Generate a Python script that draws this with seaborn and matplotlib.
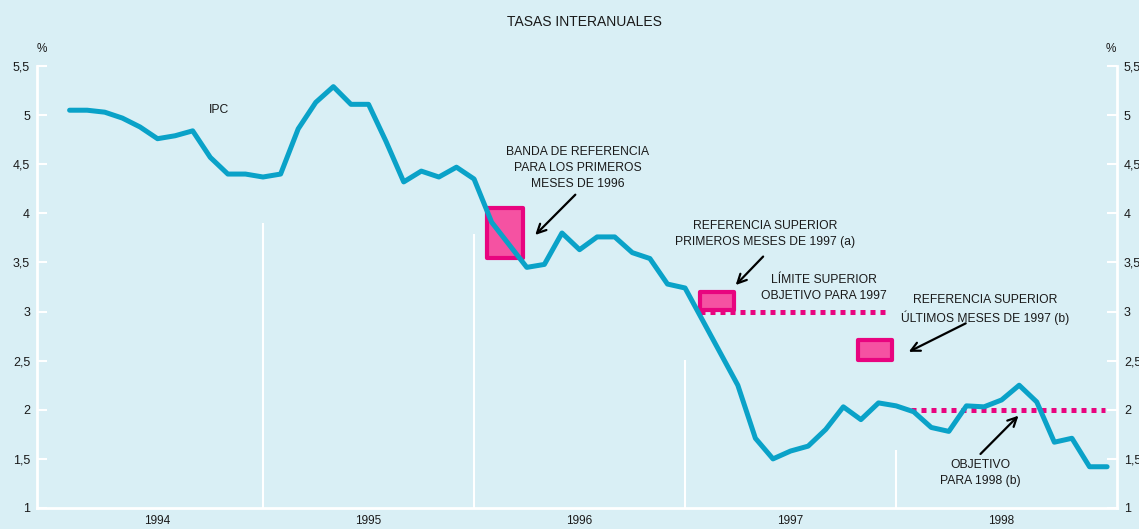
import numpy as np
import pandas as pd
import matplotlib
matplotlib.use("Agg")
import matplotlib.pyplot as plt
from matplotlib.patches import Rectangle
import seaborn as sns

# IPC, tasa interanual (%), ene 1994 - dic 1998
ipc = [5.05, 5.05, 5.03, 4.97, 4.88, 4.76, 4.79, 4.84, 4.57, 4.40, 4.40, 4.37,
       4.40, 4.86, 5.13, 5.29, 5.11, 5.11, 4.73, 4.32, 4.43, 4.37, 4.47, 4.35,
       3.91, 3.68, 3.45, 3.48, 3.80, 3.63, 3.76, 3.76, 3.60, 3.54, 3.28, 3.24,
       2.91, 2.58, 2.25, 1.71, 1.50, 1.58, 1.63, 1.80, 2.03, 1.90, 2.07, 2.04,
       1.98, 1.82, 1.78, 2.04, 2.03, 2.10, 2.25, 2.08, 1.67, 1.71, 1.42, 1.42]
years = [1994, 1995, 1996, 1997, 1998]

# bandas / referencias (cajas rosas): inicio, fin (en años), mínimo, máximo
box_x0 = [1996.06, 1997.07, 1997.82]
box_x1 = [1996.23, 1997.23, 1997.98]
box_lo = [3.55, 3.02, 2.51]
box_hi = [4.05, 3.20, 2.71]

# objetivos (líneas punteadas)
obj_x0 = [1997.07, 1998.07]
obj_x1 = [1997.97, 1998.99]
obj_val = [3.0, 2.0]

# separadores de año (altura de la línea blanca)
sep_years = [1995, 1996, 1997, 1998]
sep_tops = [3.90, 3.79, 2.51, 1.59]

bg = "#D9EFF5"
blue = "#0AA2C8"
pink = "#E8047F"
pink_fill = "#F552A2"
ink = "#1a1a1a"

sns.set_style("white", {"axes.facecolor": bg})
plt.rcParams["font.family"] = ["Liberation Sans", "DejaVu Sans"]

df = pd.DataFrame({"fecha": [1994 + (i + 1) / 12 for i in range(len(ipc))], "ipc": ipc})

fig = plt.figure(figsize=(11.39, 5.29), dpi=100, facecolor=bg)
ax = fig.add_axes([0.0325, 0.0397, 0.9482, 0.8355])

# separadores de año
ax.vlines(sep_years, 1, sep_tops, color="white", lw=1.5, zorder=1)

# cajas de referencia
for x0, x1, lo, hi in zip(box_x0, box_x1, box_lo, box_hi):
    ax.add_patch(Rectangle((x0, lo), x1 - x0, hi - lo, facecolor=pink_fill,
                           edgecolor=pink, lw=3, joinstyle="round", zorder=2))

# objetivos
for x0, x1, v in zip(obj_x0, obj_x1, obj_val):
    ax.plot([x0, x1], [v, v], color=pink, lw=3.6, ls=(0, (1, 1)),
            dash_capstyle="butt", zorder=3)

sns.lineplot(data=df, x="fecha", y="ipc", ax=ax, color=blue, lw=3.6, zorder=4)

ax.set_xlim(1993.929, 1999.047)
ax.set_ylim(1, 5.5)
ax.set_xlabel("")
ax.set_ylabel("")

for s in ["left", "right", "bottom"]:
    ax.spines[s].set_color("white")
    ax.spines[s].set_linewidth(2)
ax.spines["top"].set_visible(False)

yt = np.arange(1, 5.51, 0.5)
ax.set_yticks(yt)
ax.set_yticklabels([f"{v:g}".replace(".", ",") for v in yt])
ax.tick_params(axis="y", direction="in", length=7.2, width=1.5, color="white",
               left=True, right=True, labelleft=True, labelright=True,
               labelsize=9, pad=5, labelcolor=ink)

# meses: marcas cortas, trimestres: marcas largas
ax.set_xticks([1994 + q / 4 for q in range(21)])
ax.set_xticks([1994 + m / 12 for m in range(61)], minor=True)
ax.tick_params(axis="x", which="major", direction="in", length=7.2, width=1.5,
               color="white", labelbottom=False)
ax.tick_params(axis="x", which="minor", direction="in", length=3.2, width=1.5,
               color="white")

sec = ax.secondary_xaxis("bottom")
sec.set_xticks([y + 0.5 for y in years], labels=[str(y) for y in years])
sec.tick_params(length=0, pad=5, labelsize=8.5, labelcolor=ink)
sec.spines["bottom"].set_visible(False)

txt = dict(fontsize=8.7, color=ink, ha="center", va="center", linespacing=1.42)
ax.text(1994.79, 5.05, "IPC", **txt)
ax.text(1996.49, 4.46, "BANDA DE REFERENCIA\nPARA LOS PRIMEROS\nMESES DE 1996", **txt)
ax.text(1997.38, 3.79, "REFERENCIA SUPERIOR\nPRIMEROS MESES DE 1997 (a)", **txt)
ax.text(1997.66, 3.24, "LÍMITE SUPERIOR\nOBJETIVO PARA 1997", **txt)
ax.text(1998.42, 3.02, "REFERENCIA SUPERIOR\nÚLTIMOS MESES DE 1997 (b)", **txt)
ax.text(1998.40, 1.36, "OBJETIVO\nPARA 1998 (b)", **txt)

arrow = dict(arrowstyle="->", color="black", lw=1.6, mutation_scale=16, shrinkA=0, shrinkB=0)
ax.annotate("", xy=(1996.29, 3.78), xytext=(1996.48, 4.19), arrowprops=arrow)
ax.annotate("", xy=(1997.24, 3.27), xytext=(1997.37, 3.56), arrowprops=arrow)
ax.annotate("", xy=(1998.06, 2.59), xytext=(1998.33, 2.88), arrowprops=arrow)
ax.annotate("", xy=(1998.58, 1.94), xytext=(1998.40, 1.55), arrowprops=arrow)

fig.text(584 / 1139, 1 - 22 / 529, "TASAS INTERANUALES", ha="center", va="center",
         fontsize=10, color=ink)
fig.text(42 / 1139, 1 - 49 / 529, "%", ha="center", va="center", fontsize=8.5, color=ink)
fig.text(1111 / 1139, 1 - 49 / 529, "%", ha="center", va="center", fontsize=8.5, color=ink)

fig.savefig("out.png", dpi=100, facecolor=bg)
